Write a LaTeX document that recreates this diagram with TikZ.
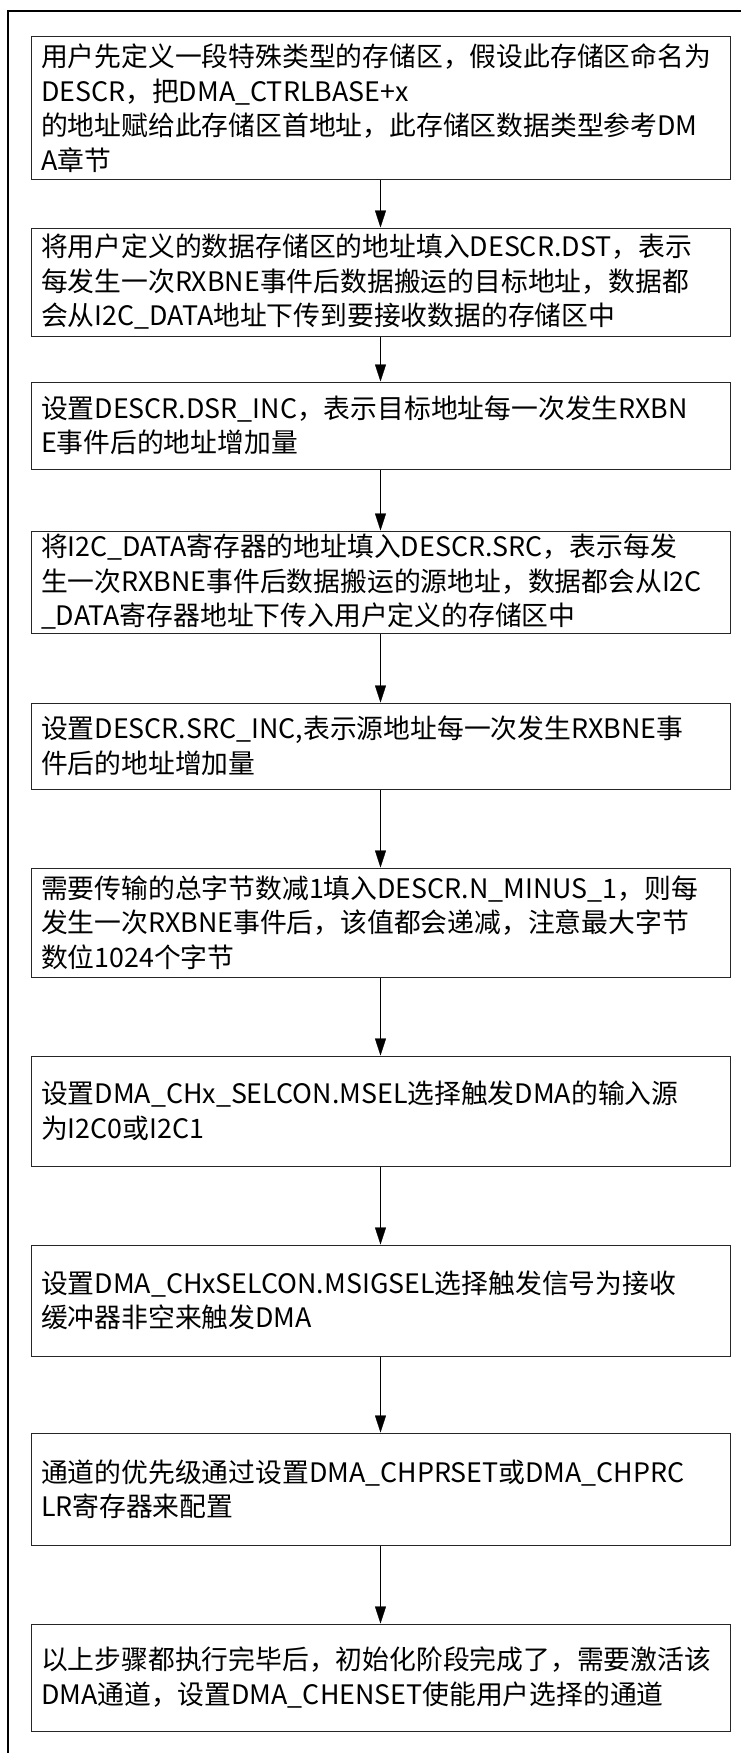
\documentclass[tikz,border=0pt]{standalone}
\usepackage{fontspec}
\setmainfont{Noto Sans CJK SC}
\usepackage{tikz}
\usetikzlibrary{arrows.meta}

\begin{document}
\begin{tikzpicture}[x=1pt,y=-1pt,>={Triangle[length=17pt,width=11pt]},
	box/.style={draw=black!85,line width=1pt,text width=679pt,inner xsep=10pt,inner ysep=0pt,align=left,font=\fontsize{26.8pt}{34.5pt}\selectfont}]
	 \useasboundingbox(0,0)rectangle(741,1753);
	 \coordinate(tr)at(745,11.5);\coordinate(tl)at(7.5,11.5);\coordinate(bl)at(7.5,1757);
	 \draw[line width=2pt](tr)--(tl)--(bl);
	 \node[box,minimum height=142pt](b1)at(380.5,108){用户先定义一段特殊类型的存储区，假设此存储区命名为\\DESCR，把DMA\_CTRLBASE+x\\的地址赋给此存储区首地址，此存储区数据类型参考DM\\A章节};
	 \node[box,minimum height=108pt](b2)at(380.5,282){将用户定义的数据存储区的地址填入DESCR.DST，表示\\每发生一次RXBNE事件后数据搬运的目标地址，数据都\\会从I2C\_DATA地址下传到要接收数据的存储区中};
	 \node[box,minimum height=87pt](b3)at(380.5,425.5){设置DESCR.DSR\_INC，表示目标地址每一次发生RXBN\\E事件后的地址增加量};
	 \node[box,minimum height=102pt](b4)at(380.5,582){将I2C\_DATA寄存器的地址填入DESCR.SRC，表示每发\\生一次RXBNE事件后数据搬运的源地址，数据都会从I2C\\\_DATA寄存器地址下传入用户定义的存储区中};
	 \node[box,minimum height=86pt](b5)at(380.5,746){设置DESCR.SRC\_INC,表示源地址每一次发生RXBNE事\\件后的地址增加量};
	 \node[box,minimum height=109pt](b6)at(380.5,922.5){需要传输的总字节数减1填入DESCR.N\_MINUS\_1，则每\\发生一次RXBNE事件后，该值都会递减，注意最大字节\\数位1024个字节};
	 \node[box,minimum height=110pt](b7)at(380.5,1111){设置DMA\_CHx\_SELCON.MSEL选择触发DMA的输入源\\为I2C0或I2C1};
	 \node[box,minimum height=111pt](b8)at(380.5,1300.5){设置DMA\_CHxSELCON.MSIGSEL选择触发信号为接收\\缓冲器非空来触发DMA};
	 \node[box,minimum height=112pt](b9)at(380.5,1489){通道的优先级通过设置DMA\_CHPRSET或DMA\_CHPRC\\LR寄存器来配置};
	 \node[box,minimum height=107pt](b10)at(380.5,1677.5){以上步骤都执行完毕后，初始化阶段完成了，需要激活该\\DMA通道，设置DMA\_CHENSET使能用户选择的通道};
	 \draw[->](b1)--(b2);\draw[->](b2)--(b3);\draw[->](b3)--(b4);
	 \draw[->](b4)--(b5);\draw[->](b5)--(b6);\draw[->](b6)--(b7);
	 \draw[->](b7)--(b8);\draw[->](b8)--(b9);\draw[->](b9)--(b10);
\end{tikzpicture}
\end{document}
